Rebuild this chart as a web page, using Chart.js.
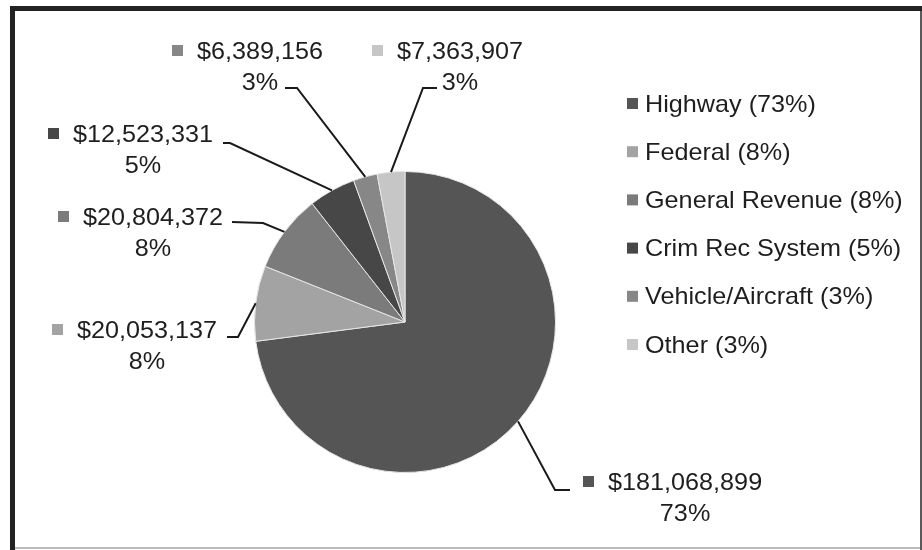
<!DOCTYPE html>
<html>
<head>
<meta charset="utf-8">
<script src="https://cdn.jsdelivr.net/npm/chart.js@4/dist/chart.umd.min.js"></script>
<style>
  html, body { margin: 0; padding: 0; background: #fff; }
  canvas { display: block; }
</style>
</head>
<body>
<canvas id="fundChart" width="922" height="550"></canvas>
<script>
// Data
const categories = ['Highway', 'Federal', 'General Revenue', 'Crim Rec System', 'Vehicle/Aircraft', 'Other'];
const amounts = [181068899, 20053137, 20804372, 12523331, 6389156, 7363907];

// Styles
const sliceColors = ['#555555', '#a3a3a3', '#7b7b7b', '#474747', '#878787', '#c6c6c6'];
const FONT = '24px "Liberation Sans", Arial, sans-serif';
const SX = 1.05; // the source text is slightly wide
const TEXT_COLOR = '#1e1e1e';

// Label layout, offsets from the pie centre (marker left / value line centre, leader elbow, leader end)
const labelLayout = [
    { at: [178, 160],   elbow: [150, 168],   end: [165, 168] },
    { at: [-353, 8],    elbow: [-167, 15],   end: [-178, 15] },
    { at: [-347, -105], elbow: [-142, -99],  end: [-173, -100] },
    { at: [-357, -188], elbow: [-175, -179], end: [-182, -179] },
    { at: [-233, -271], elbow: [-108, -234], end: [-120, -234] },
    { at: [-33, -271],  elbow: [18, -234],   end: [32, -234] }
];

const total = amounts.reduce((a, b) => a + b, 0);
const pct = v => Math.round(v / total * 100) + '%';
const money = v => '$' + v.toLocaleString('en-US');

const textW = (ctx, t) => ctx.measureText(t).width * SX;
const drawText = (ctx, t, x, y, align) => {
    ctx.save();
    ctx.translate(x, y);
    ctx.scale(SX, 1);
    ctx.textAlign = align || 'left';
    ctx.fillText(t, 0, 0);
    ctx.restore();
};

const framePlugin = {
    id: 'frame',
    beforeDraw(chart) {
        const ctx = chart.ctx;
        ctx.save();
        ctx.fillStyle = '#fff';
        ctx.fillRect(0, 0, chart.width, chart.height);
        ctx.fillStyle = '#bdbdbd';
        ctx.fillRect(10, 547, 911, 2);
        ctx.fillStyle = '#5a5a5a';
        ctx.fillRect(920, 6, 2, 544);
        ctx.fillStyle = '#222';
        ctx.fillRect(10, 6, 912, 5);
        ctx.fillRect(10, 6, 5, 544);
        ctx.restore();
    }
};

const labelPlugin = {
    id: 'pieLabels',
    afterDatasetsDraw(chart) {
        const ctx = chart.ctx;
        const meta = chart.getDatasetMeta(0);
        ctx.save();
        ctx.font = FONT;
        ctx.textBaseline = 'middle';
        meta.data.forEach((arc, i) => {
            const p = arc.getProps(['x', 'y', 'outerRadius', 'startAngle', 'endAngle'], true);
            const mid = (p.startAngle + p.endAngle) / 2;
            const cx = p.x, cy = p.y;
            const L = labelLayout[i];

            // leader line
            ctx.strokeStyle = '#1a1a1a';
            ctx.lineWidth = 2;
            ctx.beginPath();
            ctx.moveTo(cx + Math.cos(mid) * p.outerRadius, cy + Math.sin(mid) * p.outerRadius);
            ctx.lineTo(cx + L.elbow[0], cy + L.elbow[1]);
            ctx.lineTo(cx + L.end[0], cy + L.end[1]);
            ctx.stroke();

            // marker + value + percent
            const mx = cx + L.at[0], my = cy + L.at[1];
            ctx.fillStyle = sliceColors[i];
            ctx.fillRect(mx, my - 6, 11, 11);
            ctx.fillStyle = TEXT_COLOR;
            const valText = money(amounts[i]);
            const tx = mx + 25;
            drawText(ctx, valText, tx, my + 1);
            drawText(ctx, pct(amounts[i]), tx + textW(ctx, valText) / 2, my + 32, 'center');
        });

        // legend
        categories.forEach((c, i) => {
            const y = 104 + i * 48.2;
            ctx.fillStyle = sliceColors[i];
            ctx.fillRect(627, y - 6, 11, 11);
            ctx.fillStyle = TEXT_COLOR;
            drawText(ctx, c + ' (' + pct(amounts[i]) + ')', 645, y + 1);
        });
        ctx.restore();
    }
};

new Chart(document.getElementById('fundChart'), {
    type: 'pie',
    data: {
        labels: categories,
        datasets: [{
            data: amounts,
            backgroundColor: sliceColors,
            borderColor: '#e6e6e6',
            borderWidth: 1
        }]
    },
    options: {
        responsive: false,
        animation: false,
        layout: { padding: { left: 254, right: 366, top: 171, bottom: 77 } },
        plugins: {
            legend: { display: false },
            tooltip: { enabled: false }
        }
    },
    plugins: [framePlugin, labelPlugin]
});
</script>
</body>
</html>
